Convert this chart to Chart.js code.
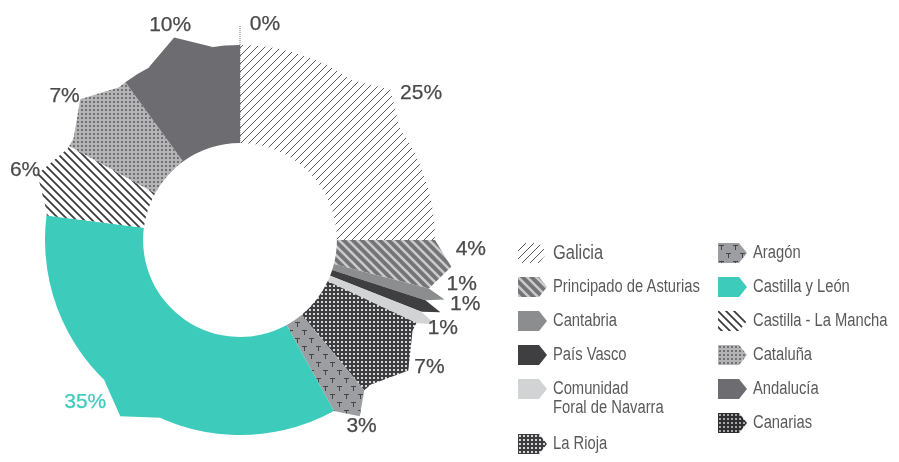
<!DOCTYPE html>
<html>
<head>
<meta charset="utf-8">
<script src="https://cdn.jsdelivr.net/npm/chart.js@4.4.1/dist/chart.umd.min.js"></script>
<style>
  html, body { margin: 0; padding: 0; background: #ffffff; }
  #wrap { position: relative; width: 899px; height: 462px; overflow: hidden; background: #ffffff; }
  #chart { position: absolute; left: 0; top: 0; }
  .item { position: absolute; display: flex; align-items: flex-start; white-space: nowrap; }
  .item canvas { flex: none; display: block; }
  .item span { display: inline-block; margin-left: 6px; color: #5a5a5d; line-height: 19px; transform-origin: 0 50%; }
</style>
</head>
<body>
<div id="wrap">
  <canvas id="chart" width="899" height="462"></canvas>
  <div id="legend"></div>
</div>
<script>
// Regions and their share of the total, in percent
const regions = [
  'Galicia', 'Principado de Asturias', 'Cantabria', 'País Vasco',
  ['Comunidad', 'Foral de Navarra'], 'La Rioja', 'Aragón', 'Castilla y León',
  'Castilla - La Mancha', 'Cataluña', 'Andalucía', 'Canarias'
];
const shares = [25, 4, 1, 1, 1, 7, 3, 35, 6, 7, 10, 0];

// Label placement: angular turn (degrees) from each slice's middle and distance beyond the rim
const labelTurn = [6, -5, -5, -4, 0, -4, 1, 9.5, 0, -2, 0, 6.6];
const labelGap = [38, 36, 31, 39, 26, 33, 27, 29, 31, 32, 31, 22];

const TEAL = '#3dcbbb';
const TEXT = '#4a4a4d';

// ---------- fill patterns ----------
function tile(w, h, paint) {
  const t = document.createElement('canvas');
  t.width = w; t.height = h;
  paint(t.getContext('2d'), w, h);
  return t;
}
function stripeTile(size, bg, fg, lw, rising) {
  return tile(size, size, (g, s) => {
    g.fillStyle = bg; g.fillRect(0, 0, s, s);
    g.strokeStyle = fg; g.lineWidth = lw; g.beginPath();
    for (const o of [-s, 0, s]) {
      if (rising) { g.moveTo(o - 1, s + 1); g.lineTo(o + s + 1, -1); }
      else { g.moveTo(o - 1, -1); g.lineTo(o + s + 1, s + 1); }
    }
    g.stroke();
  });
}
function dotTile(size, bg, fg, dot) {
  return tile(size, size, (g, s) => {
    g.fillStyle = bg; g.fillRect(0, 0, s, s);
    g.fillStyle = fg; g.fillRect(1, 1, dot, dot);
  });
}
function teeTile() {
  return tile(14, 16, (g) => {
    g.fillStyle = '#9c9ea1'; g.fillRect(0, 0, 14, 16);
    g.strokeStyle = '#444548'; g.lineWidth = 1;
    g.beginPath();
    g.moveTo(1, 2.5); g.lineTo(6, 2.5); g.moveTo(3.5, 2.5); g.lineTo(3.5, 7);
    g.moveTo(8, 10.5); g.lineTo(13, 10.5); g.moveTo(10.5, 10.5); g.lineTo(10.5, 15);
    g.stroke();
  });
}
const fillTiles = [
  stripeTile(8, '#ffffff', '#58585b', 1.0, true),   // Galicia
  stripeTile(9, '#747477', '#cacacc', 2.6, false),  // Asturias
  '#8b8d8f',                                       // Cantabria
  '#3f3f41',                                       // País Vasco
  '#d1d3d5',                                       // Navarra
  dotTile(4, '#3d3d40', '#d6d6d8', 2),              // La Rioja
  teeTile(),                                       // Aragón
  TEAL,                                            // Castilla y León
  stripeTile(8, '#ffffff', '#3c3c3f', 1.8, false),  // Castilla - La Mancha
  dotTile(4, '#b4b4b7', '#707074', 2),              // Cataluña
  '#6d6d71',                                       // Andalucía
  dotTile(4, '#2e2e30', '#a8a8aa', 2)               // Canarias
];
function fillsFor(ctx) {
  return fillTiles.map(t => typeof t === 'string' ? t : ctx.createPattern(t, 'repeat'));
}

// ---------- pointed outer edges of the slices and percentage labels ----------
const TIP = 18;
const TIP_HALF = 10 * Math.PI / 180;
const slicePoints = {
  id: 'slicePoints',
  afterDatasetsDraw(chart) {
    const ctx = chart.ctx;
    const meta = chart.getDatasetMeta(0);
    const fills = chart.data.datasets[0].backgroundColor;
    meta.data.forEach((arc, i) => {
      const { x, y, startAngle, endAngle, innerRadius, outerRadius } =
        arc.getProps(['x', 'y', 'startAngle', 'endAngle', 'innerRadius', 'outerRadius'], true);
      const span = endAngle - startAngle;
      const R = outerRadius;
      ctx.save();
      if (span <= 1e-6) {
        // an empty slice shows as a dotted ray
        ctx.strokeStyle = '#6a6a6d';
        ctx.lineWidth = 1;
        ctx.setLineDash([1, 1]);
        ctx.beginPath();
        ctx.moveTo(x + innerRadius * Math.cos(startAngle), y + innerRadius * Math.sin(startAngle));
        ctx.lineTo(x + (R + TIP + 2) * Math.cos(startAngle), y + (R + TIP + 2) * Math.sin(startAngle));
        ctx.stroke();
        ctx.restore();
        return;
      }
      const mid = (startAngle + endAngle) / 2;
      const hw = Math.min(span / 2, TIP_HALF);
      ctx.fillStyle = fills[i];
      ctx.beginPath();
      ctx.moveTo(x + (R - 3) * Math.cos(mid), y + (R - 3) * Math.sin(mid));
      ctx.lineTo(x + R * Math.cos(mid - hw), y + R * Math.sin(mid - hw));
      ctx.lineTo(x + (R + TIP) * Math.cos(mid), y + (R + TIP) * Math.sin(mid));
      ctx.lineTo(x + R * Math.cos(mid + hw), y + R * Math.sin(mid + hw));
      ctx.closePath();
      ctx.fill();
      ctx.restore();
    });
  },
  afterDraw(chart) {
    const ctx = chart.ctx;
    const meta = chart.getDatasetMeta(0);
    const values = chart.data.datasets[0].data;
    ctx.save();
    ctx.font = '21px "Liberation Sans", Arial, sans-serif';
    ctx.textBaseline = 'middle';
    ctx.textAlign = 'center';
    ctx.lineWidth = 0.25;
    meta.data.forEach((arc, i) => {
      const { x, y, startAngle, endAngle, outerRadius } =
        arc.getProps(['x', 'y', 'startAngle', 'endAngle', 'outerRadius'], true);
      const a = (startAngle + endAngle) / 2 + labelTurn[i] * Math.PI / 180;
      const r = outerRadius + labelGap[i];
      const px = x + r * Math.cos(a);
      const py = y + r * Math.sin(a);
      const txt = values[i] + '%';
      const col = i === 7 ? TEAL : TEXT;
      ctx.fillStyle = col;
      ctx.strokeStyle = col;
      ctx.fillText(txt, px, py);
      ctx.strokeText(txt, px, py);
    });
    ctx.restore();
  }
};

const canvas = document.getElementById('chart');
const ctx = canvas.getContext('2d');

new Chart(ctx, {
  type: 'doughnut',
  data: {
    labels: regions,
    datasets: [{
      data: shares,
      backgroundColor: fillsFor(ctx),
      borderWidth: 0,
      hoverOffset: 0
    }]
  },
  options: {
    responsive: false,
    animation: false,
    radius: 195,
    cutout: '49.7%',
    layout: { padding: { left: 0, right: 419, top: 18, bottom: 0 } },
    plugins: {
      legend: { display: false },
      tooltip: { enabled: false },
      title: { display: false }
    },
    events: []
  },
  plugins: [slicePoints]
});

// ---------- legend ----------
function fontAvailable(name) {
  const g = document.createElement('canvas').getContext('2d');
  const s = 'Principado de Asturias';
  g.font = '40px monospace';
  const a = g.measureText(s).width;
  g.font = '40px "' + name + '", monospace';
  return g.measureText(s).width !== a;
}
const narrow = fontAvailable('Liberation Sans Narrow');

const legend = document.getElementById('legend');
const colX = [518, 718];
const perColumn = 6;
regions.forEach((name, i) => {
  const col = Math.floor(i / perColumn);
  const row = i % perColumn;
  let extra = 0;
  for (let k = col * perColumn; k < i; k++) {
    if (Array.isArray(regions[k])) extra += regions[k].length - 1;
  }
  const center = 253 + row * 34 + extra * 21;
  const item = document.createElement('div');
  item.className = 'item';
  item.style.left = colX[col] + 'px';
  item.style.top = (center - 10) + 'px';

  const m = document.createElement('canvas');
  m.width = 29; m.height = 20;
  const g = m.getContext('2d');
  g.fillStyle = fillsFor(g)[i];
  g.beginPath();
  g.moveTo(0, 0); g.lineTo(21, 0); g.lineTo(29, 10); g.lineTo(21, 20); g.lineTo(0, 20);
  g.closePath();
  g.fill();
  item.appendChild(m);

  const t = document.createElement('span');
  const lines = Array.isArray(name) ? name : [name];
  lines.forEach((ln, k) => {
    if (k) t.appendChild(document.createElement('br'));
    t.appendChild(document.createTextNode(ln));
  });
  const size = i === 0 ? 20 : 18;
  if (narrow) {
    t.style.font = size + 'px "Liberation Sans Narrow", sans-serif';
  } else {
    t.style.font = size + 'px "Liberation Sans", Arial, sans-serif';
    t.style.transform = 'scaleX(0.82)';
  }
  t.style.lineHeight = '19px';
  item.appendChild(t);
  legend.appendChild(item);
});
</script>
</body>
</html>
